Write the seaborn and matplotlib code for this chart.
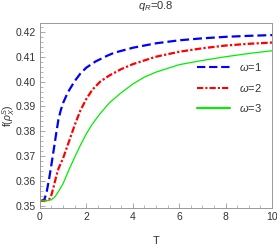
import matplotlib
matplotlib.use("Agg")

import pandas as pd
import matplotlib.pyplot as plt
import seaborn as sns
from matplotlib.ticker import MultipleLocator

# -----------------------------
# Data
# -----------------------------

t_w1 = [0, 0.1, 0.2, 0.3, 0.4, 0.5, 0.6, 0.7, 0.8, 0.9, 1.0, 1.2, 1.5, 1.75,
        2.0, 2.4, 2.9, 3.2, 4, 5, 6, 7, 8, 9, 10]
f_w1 = [0.352, 0.3521, 0.3527, 0.356, 0.361, 0.3668, 0.3728, 0.379, 0.3848,
        0.3885, 0.3914, 0.3956, 0.4002, 0.4033, 0.4056, 0.4081, 0.4104,
        0.4116, 0.4136, 0.4154, 0.4166, 0.4174, 0.4180, 0.4184, 0.4187]

t_w2 = [0, 0.2, 0.4, 0.5, 0.6, 0.7, 0.8, 1.0, 1.2, 1.5, 1.75, 2.0, 2.25,
        2.6, 3.0, 3.5, 4, 5, 6, 7, 8, 9, 10]
f_w2 = [0.352, 0.3521, 0.3526, 0.3545, 0.358, 0.3618, 0.365, 0.3692, 0.3745,
        0.3825, 0.3885, 0.393, 0.3966, 0.400, 0.4025, 0.405, 0.407, 0.410,
        0.412, 0.4134, 0.4145, 0.4152, 0.4157]

t_w3 = [0, 0.3, 0.5, 0.65, 0.8, 1.0, 1.25, 1.5, 1.75, 2.0, 2.25, 2.6, 3.0,
        3.5, 4, 4.5, 5, 6, 7, 8, 9, 10]
f_w3 = [0.352, 0.3521, 0.3525, 0.3537, 0.3558, 0.359, 0.3645, 0.3696,
        0.3745, 0.379, 0.3828, 0.3872, 0.3915, 0.3955, 0.399, 0.4018,
        0.4038, 0.4068, 0.4085, 0.410, 0.4113, 0.4124]

labels = ["$\\omega$=1", "$\\omega$=2", "$\\omega$=3"]

df = pd.concat([
    pd.DataFrame({"T": t_w1, "f": f_w1, "w": labels[0]}),
    pd.DataFrame({"T": t_w2, "f": f_w2, "w": labels[1]}),
    pd.DataFrame({"T": t_w3, "f": f_w3, "w": labels[2]}),
])

# -----------------------------
# Plot
# -----------------------------

sns.set_style("ticks")
plt.rcParams["font.family"] = ["Liberation Sans", "DejaVu Sans"]
plt.rcParams["mathtext.fontset"] = "custom"
plt.rcParams["mathtext.it"] = "Liberation Sans:italic"
plt.rcParams["mathtext.rm"] = "Liberation Sans"

fig = plt.figure(figsize=(2.77, 2.49), dpi=100)
ax = fig.add_axes([0.144, 0.165, 0.838, 0.743])

sns.lineplot(
    data=df,
    x="T",
    y="f",
    hue="w",
    style="w",
    palette={labels[0]: "#0000ff", labels[1]: "#ff0000", labels[2]: "#00ee00"},
    dashes={labels[0]: (4, 1.8), labels[1]: (3, 1, 1, 1), labels[2]: ""},
    ax=ax,
)

for line, lw in zip(ax.lines, [1.6, 1.6, 0.9]):
    line.set_linewidth(lw)

ax.set_xlim(0, 10)
ax.set_ylim(0.3492, 0.4236)
ax.xaxis.set_major_locator(MultipleLocator(2))
ax.xaxis.set_minor_locator(MultipleLocator(0.5))
ax.yaxis.set_major_locator(MultipleLocator(0.01))
ax.yaxis.set_minor_locator(MultipleLocator(0.002))
ax.set_yticklabels([f"{v:.2f}" for v in ax.get_yticks()])

ax.tick_params(which="both", direction="in", color="#999999",
               labelsize=7.5, labelcolor="#333333", pad=3)
ax.tick_params(which="major", length=3.5, width=0.6)
ax.tick_params(which="minor", length=2, width=0.5)
for s in ax.spines.values():
    s.set_color("#999999")
    s.set_linewidth(0.7)

ax.set_xlabel("T", fontsize=8, color="#333333", labelpad=10)
ax.set_ylabel("f($\\rho_X^S$)", fontsize=7.5, color="#333333")
ax.yaxis.set_label_coords(-0.1, 0.5)
ax.set_title("$q_R$=0.8", fontsize=8, color="#333333", pad=10)

handles, _ = ax.get_legend_handles_labels()
ax.legend(handles, labels, loc="center right", bbox_to_anchor=(1.0, 0.65),
          frameon=False, fontsize=8, handlelength=3.0, labelspacing=0.75,
          handletextpad=0.8, labelcolor="#333333")

plt.savefig("out.png", dpi=100)
plt.close()
